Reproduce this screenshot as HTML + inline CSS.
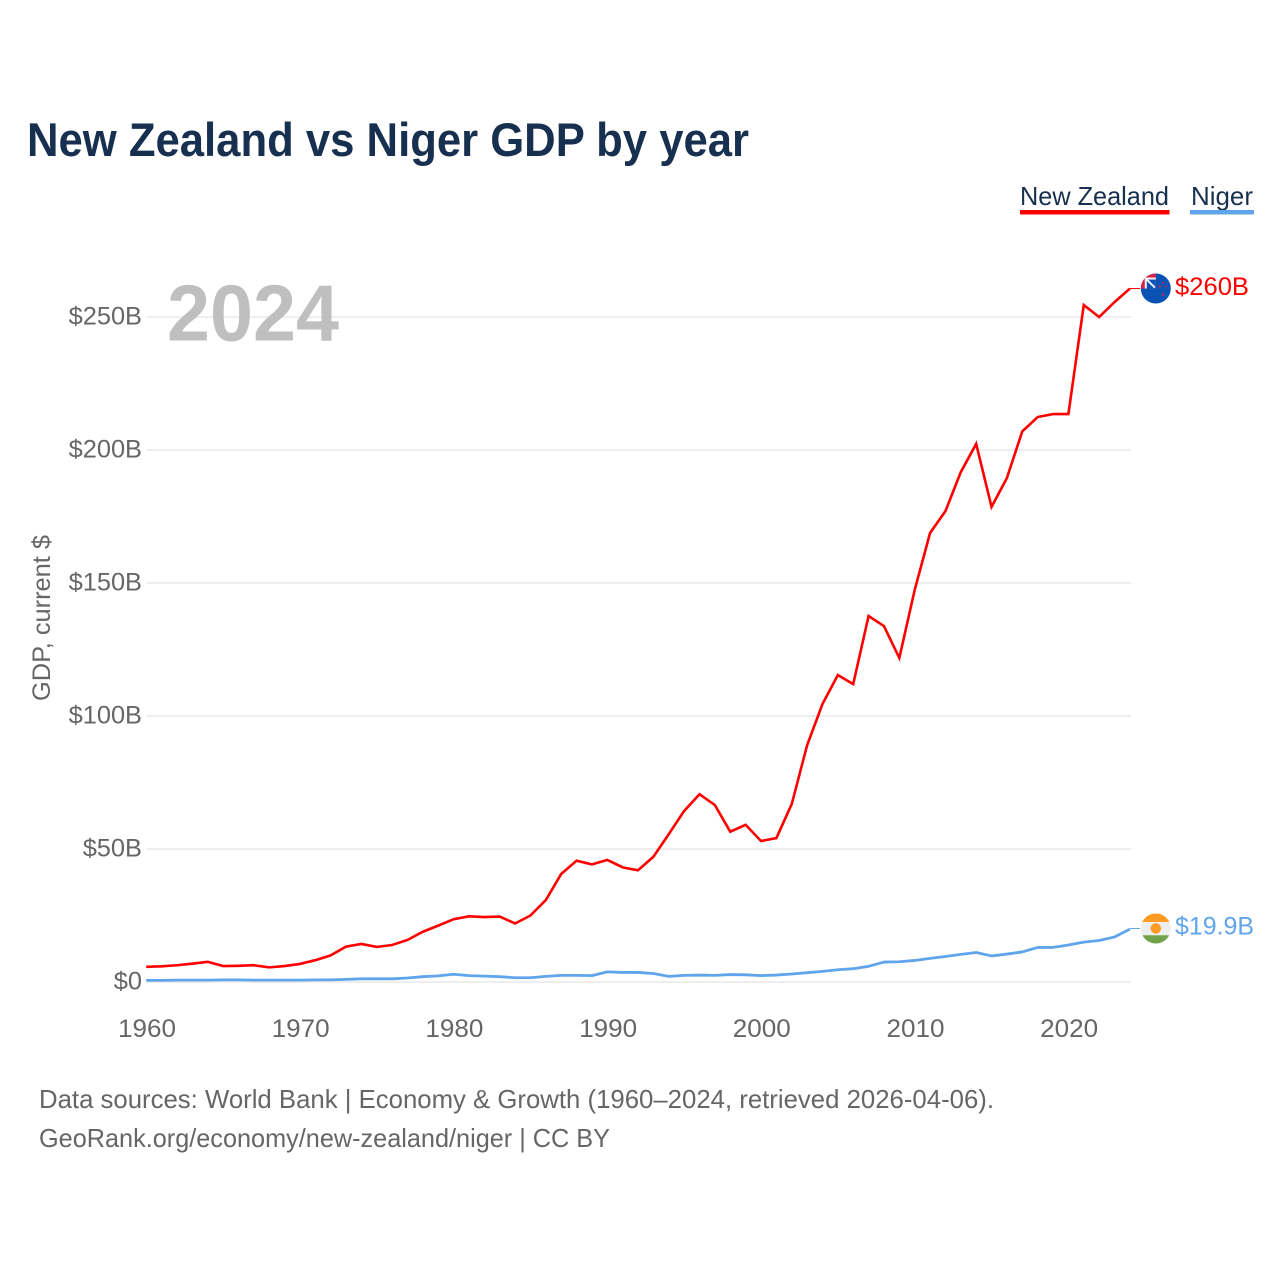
<!DOCTYPE html>
<html lang="en">
<head>
<meta charset="utf-8">
<title>New Zealand vs Niger GDP by year</title>
<style>
html,body{margin:0;padding:0;background:#fff;width:1280px;height:1280px;overflow:hidden}
svg{display:block;font-family:"Liberation Sans",sans-serif}
</style>
</head>
<body>
<svg id="chart" width="1280" height="1280" viewBox="0 0 1280 1280" xmlns="http://www.w3.org/2000/svg">
  <defs>
    <clipPath id="clip-nz"><circle id="clip-nz-circle" cx="0" cy="0" r="15"/></clipPath>
    <clipPath id="clip-ne"><circle id="clip-ne-circle" cx="0" cy="0" r="15"/></clipPath>
  </defs>
  <rect width="1280" height="1280" fill="#fff"/>
  <text x="27" y="156" font-size="47" font-weight="700" fill="#18304f" textLength="722" lengthAdjust="spacingAndGlyphs">New Zealand vs Niger GDP by year</text>

  <g>
    <text x="1020" y="205" font-size="26" fill="#18304f" textLength="149" lengthAdjust="spacingAndGlyphs">New Zealand</text>
    <rect x="1020" y="210" width="149.5" height="4.5" fill="#ff0000"/>
  </g>
  <g>
    <text x="1191" y="205" font-size="26" fill="#18304f" textLength="62" lengthAdjust="spacingAndGlyphs">Niger</text>
    <rect x="1190" y="210" width="64" height="4.5" fill="#60a5eb"/>
  </g>

  <g id="grid"></g>
  <g id="y-ticks"></g>
  <g id="x-ticks"></g>

  <text x="167" y="340.5" font-size="80" font-weight="700" fill="#bfbfbf" textLength="172" lengthAdjust="spacingAndGlyphs">2024</text>
  <text transform="translate(50,618) rotate(-90)" text-anchor="middle" font-size="25" fill="#666" textLength="166" lengthAdjust="spacingAndGlyphs">GDP, current $</text>

  <g id="series"></g>
  <g id="ends"></g>

  <text x="39" y="1108" font-size="26" fill="#666" textLength="955" lengthAdjust="spacingAndGlyphs">Data sources: World Bank | Economy &amp; Growth (1960–2024, retrieved 2026-04-06).</text>
  <text x="39" y="1147" font-size="26" fill="#666" textLength="571" lengthAdjust="spacingAndGlyphs">GeoRank.org/economy/new-zealand/niger | CC BY</text>
</svg>
<script>
const startYear = 1960;
const newZealandGdp = [5.7,5.9,6.3,6.9,7.6,6.0,6.1,6.3,5.5,6.0,6.8,8.2,10.0,13.3,14.3,13.2,13.9,15.8,18.9,21.2,23.6,24.7,24.4,24.6,22.0,25.0,30.8,40.6,45.6,44.2,45.9,43.1,42.0,47.1,55.6,64.3,70.6,66.5,56.5,59.1,53.0,54.1,66.9,89.0,104.5,115.4,112.0,137.6,133.8,121.8,147.4,168.8,177.0,191.7,202.3,178.6,189.5,207.0,212.4,213.5,213.5,254.5,250.0,255.6,260.7];
const nigerGdp = [0.6,0.6,0.7,0.7,0.7,0.8,0.8,0.7,0.7,0.7,0.7,0.8,0.8,1.0,1.2,1.2,1.2,1.5,2.0,2.3,2.9,2.4,2.2,2.0,1.6,1.6,2.1,2.5,2.5,2.4,3.8,3.6,3.6,3.2,2.1,2.5,2.6,2.5,2.8,2.7,2.4,2.6,3.0,3.5,4.0,4.6,5.0,5.9,7.5,7.6,8.1,8.9,9.6,10.4,11.1,9.8,10.5,11.3,13.0,13.0,13.9,15.0,15.6,16.9,19.9];
const yTickValues = [0,50,100,150,200,250];
const yTickLabels = ["$0","$50B","$100B","$150B","$200B","$250B"];
const xTickYears = [1960,1970,1980,1990,2000,2010,2020];
const endLabels = ["$260B","$19.9B"];

const NS = "http://www.w3.org/2000/svg";
function xScale(year){ return 146.2 + (year - 1960) * 15.37; }
function yScale(v){ return 982 - v * 2.66; }
function make(tag, attrs, parent){
  const el = document.createElementNS(NS, tag);
  for (const k in attrs) el.setAttribute(k, attrs[k]);
  parent.appendChild(el);
  return el;
}
function linePoints(values){
  return values.map(function(v, i){
    return xScale(startYear + i).toFixed(2) + "," + yScale(v).toFixed(2);
  }).join(" ");
}

const gridG = document.getElementById("grid");
const yTicksG = document.getElementById("y-ticks");
const xTicksG = document.getElementById("x-ticks");
const seriesG = document.getElementById("series");
const endsG = document.getElementById("ends");
const lastYear = startYear + newZealandGdp.length - 1;

yTickValues.forEach(function(v, i){
  const line = make("line", {x1: 147, x2: 1131, y1: yScale(v), y2: yScale(v), stroke: "#eeeeee", "stroke-width": 2}, gridG);
  
  
  const t = make("text", {x: 142, y: yScale(v) + 7.5, "text-anchor": "end", "font-size": 25.4, fill: "#666"}, yTicksG);
  
  
  t.textContent = yTickLabels[i];
});

xTickYears.forEach(function(year){
  const t = make("text", {x: xScale(year) + 0.8, y: 1037, "text-anchor": "middle", "font-size": 25, fill: "#666", textLength: 58, lengthAdjust: "spacingAndGlyphs"}, xTicksG);
  
  
  t.textContent = String(year);
});

const nigerLine = make("polyline", {points: linePoints(nigerGdp), fill: "none", stroke: "#60a5eb", "stroke-width": 2.8, "stroke-linejoin": "round"}, seriesG);


const nzLine = make("polyline", {points: linePoints(newZealandGdp), fill: "none", stroke: "#ff0000", "stroke-width": 2.6, "stroke-linejoin": "miter"}, seriesG);



/* end-of-line markers: leader, flag, value label */
const nzY = yScale(newZealandGdp[newZealandGdp.length - 1]);
const neY = yScale(nigerGdp[nigerGdp.length - 1]) - 0.6;
const cx = 1155.8;
const endX = xScale(lastYear);

const nzLeader = make("line", {x1: endX, x2: 1140, y1: nzY, y2: nzY, stroke: "#ff0000", "stroke-width": 1}, endsG);


const neLeader = make("line", {x1: endX, x2: 1140, y1: neY, y2: neY, stroke: "#60a5eb", "stroke-width": 1}, endsG);



/* New Zealand flag */
const nzClip = document.getElementById("clip-nz-circle");
nzClip.setAttribute("cx", cx);
nzClip.setAttribute("cy", nzY);
const nzFlag = make("g", {"clip-path": "url(#clip-nz)"}, endsG);


make("rect", {x: cx - 16, y: nzY - 16, width: 32, height: 32, fill: "#0a52b4"}, nzFlag);
make("rect", {x: cx - 16, y: nzY - 16, width: 16, height: 16, fill: "#d6254a"}, nzFlag);
make("rect", {x: cx - 11, y: nzY - 11, width: 11, height: 11, fill: "#f4f4f8"}, nzFlag);
make("rect", {x: cx - 9, y: nzY - 9, width: 9, height: 9, fill: "#0a52b4"}, nzFlag);
make("line", {x1: cx - 9, y1: nzY - 9, x2: cx - 1, y2: nzY - 1, stroke: "#f4f4f8", "stroke-width": 2}, nzFlag);
make("circle", {cx: cx + 4, cy: nzY - 2, r: 1.1, fill: "#e0263f"}, nzFlag);
make("circle", {cx: cx + 7, cy: nzY - 6, r: 0.9, fill: "#e0263f"}, nzFlag);
make("circle", {cx: cx + 10, cy: nzY - 2, r: 0.9, fill: "#e0263f"}, nzFlag);
make("circle", {cx: cx + 7, cy: nzY + 6, r: 1.2, fill: "#e0263f"}, nzFlag);

/* Niger flag */
const neClip = document.getElementById("clip-ne-circle");
neClip.setAttribute("cx", cx);
neClip.setAttribute("cy", neY);
const neFlag = make("g", {"clip-path": "url(#clip-ne)"}, endsG);


make("rect", {x: cx - 16, y: neY - 16, width: 32, height: 32, fill: "#eeeeee"}, neFlag);
make("rect", {x: cx - 16, y: neY - 16, width: 32, height: 9.5, fill: "#fd9a22"}, neFlag);
make("rect", {x: cx - 16, y: neY + 6.8, width: 32, height: 9.5, fill: "#71a44a"}, neFlag);
make("circle", {cx: cx, cy: neY, r: 5.2, fill: "#fd9a22"}, neFlag);

const nzValue = make("text", {x: 1175, y: nzY + 6.5, "font-size": 25, fill: "#ff0000", textLength: 74, lengthAdjust: "spacingAndGlyphs"}, endsG);


nzValue.textContent = endLabels[0];
const neValue = make("text", {x: 1175, y: neY + 6, "font-size": 25, fill: "#60a5eb", textLength: 79, lengthAdjust: "spacingAndGlyphs"}, endsG);


neValue.textContent = endLabels[1];
</script>
</body>
</html>
